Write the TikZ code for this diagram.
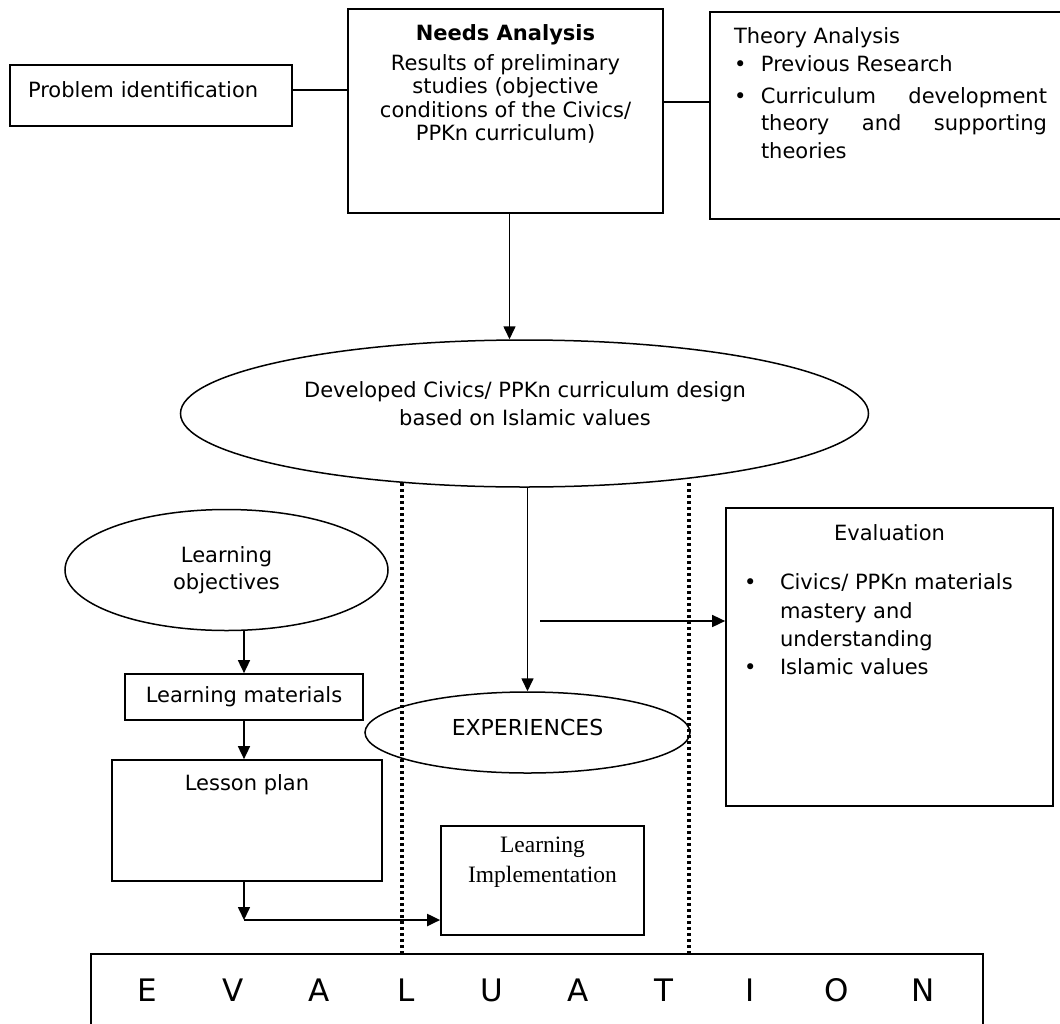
\documentclass[tikz,border=0pt]{standalone}
\usepackage{fontspec}
\setmainfont{DejaVu Sans}
\newfontfamily\serifli{Liberation Serif}
\usetikzlibrary{shapes.geometric,arrows.meta}
\hbadness=10000
\begin{document}
\begin{tikzpicture}[x=1pt,y=-1pt,
  every node/.append style={font=\fontsize{21}{24}\selectfont},
  box/.style={draw,line width=1.7pt,inner sep=0pt},
  oval/.style={draw,ellipse,line width=1.5pt,inner sep=0pt},
  conn/.style={line width=1.6pt},
  arr/.style={line width=1.6pt,-{Triangle[length=13pt,width=12pt]}},
  dots/.style={line width=3.2pt,dash pattern=on 3pt off 3pt}]
\useasboundingbox (0,0) rectangle (1060,1023);
\clip (0,0) rectangle (1060,1023);

% top row
\node[box,minimum width=282pt,minimum height=61pt,text width=246pt,align=left,text depth=11pt] (pi) at (151,95.5) {Problem identification};
\node[box] (na) at (505.5,111) {\parbox[c][204pt][t]{315pt}{\fontsize{21}{23.5}\selectfont\centering\vspace*{16pt}\textbf{Needs Analysis}\\[6pt]Results of preliminary\\studies (objective\\conditions of the Civics/\\PPKn curriculum)}};
\node[box] (ta) at (886,115.5) {\parbox[c][207pt][t]{352pt}{\fontsize{21}{27.5}\selectfont\raggedright\leftskip=24pt\vspace*{16pt}Theory Analysis\\\makebox[27pt][l]{\textbullet}Previous Research\\[4.5pt]\makebox[27pt][l]{\textbullet}\parbox[t]{286pt}{\fontsize{21}{27.5}\selectfont Curriculum development\linebreak theory and supporting\linebreak theories}}};

% central design ellipse
\node[oval,minimum width=688pt,minimum height=147pt] (de) at (524.5,413.5) {};
\node[align=center,font=\fontsize{21}{28}\selectfont] (detx) at (525,404) {Developed Civics/ PPKn curriculum design\\based on Islamic values};

% left column
\node[oval,minimum width=323pt,minimum height=121pt,align=center,font=\fontsize{21}{27}\selectfont] (lo) at (226.5,570) {Learning\\objectives};
\node[box,minimum width=238pt,minimum height=46pt] (lm) at (244,697) {Learning materials};
\node[box] (lp) at (247,820.5) {\parbox[c][121pt][t]{270pt}{\centering\vspace*{14.5pt}Lesson plan}};

% middle
\node[oval,minimum width=325pt,minimum height=81pt,font=\fontsize{22}{26}\selectfont,text height=6.3pt,text depth=0pt] (exp) at (527.5,732.5) {EXPERIENCES};
\node[box] (li) at (542.5,880.5) {\parbox[c][109pt][t]{203pt}{\centering\vspace*{11pt}\serifli\fontsize{23.5}{30}\selectfont Learning\\Implementation}};

% right evaluation box
\node[box] (eb) at (889.5,657) {\parbox[c][298pt][t]{327pt}{\fontsize{21}{28.3}\selectfont\vspace*{17pt}{\centering Evaluation\par}\vspace{20.7pt}\raggedright\leftskip=18pt \makebox[36pt][l]{\textbullet}Civics/ PPKn materials\\\hspace*{36pt}mastery and\\\hspace*{36pt}understanding\\\makebox[36pt][l]{\textbullet}Islamic values}};

% bottom EVALUATION
\node[box,minimum width=892pt,minimum height=140pt] (ev) at (537,1024) {};
\node[font=\fontsize{31}{36}\selectfont] (evtx) at (535,990) {\makebox[86.2pt]{E}\makebox[86.2pt]{V}\makebox[86.2pt]{A}\makebox[86.2pt]{L}\makebox[86.2pt]{U}\makebox[86.2pt]{A}\makebox[86.2pt]{T}\makebox[86.2pt]{I}\makebox[86.2pt]{O}\makebox[86.2pt]{N}};

% connectors
\draw[conn] ([yshift=5.5pt]pi.east) -- ([yshift=5.5pt]pi.east -| na.west);
\draw[conn] ([yshift=9pt]na.east) -- ([yshift=9pt]na.east -| ta.west);
\draw[arr] ([xshift=4pt]na.south) -- ([xshift=4pt]na.south |- de.north);
\draw[arr] (exp.north |- de.south) -- (exp.north);
\coordinate (evs) at (540,621);
\draw[arr] (evs) -- (evs -| eb.west);
\draw[arr] (lm.north |- lo.south) -- (lm.north);
\draw[arr] (lm.south) -- (lm.south |- lp.north);
\coordinate (bend) at (244,920);
\draw[arr] (bend |- lp.south) -- (bend);
\draw[arr,line width=2pt] (bend) -- (bend -| li.west);

% dotted guide lines
\coordinate (d1) at (402,483);
\coordinate (d2) at (689,483);
\draw[dots] (d1) -- (d1 |- ev.north);
\draw[dots] (d2) -- (d2 |- ev.north);
\end{tikzpicture}
\end{document}
